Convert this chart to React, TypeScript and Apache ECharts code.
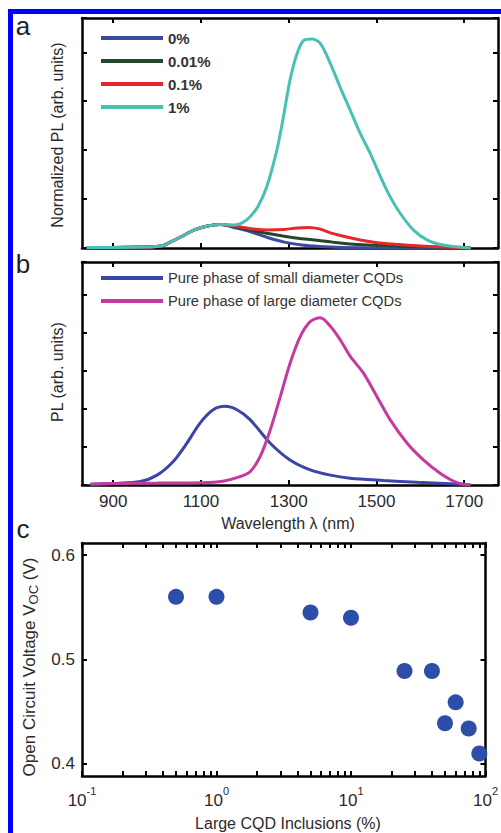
import React, { useEffect, useRef } from "react";
import * as echarts from "echarts";

// ---------- Data ----------
const wavelengthTicks = [900, 1100, 1300, 1500, 1700];

// Panel a: normalized PL for increasing large-dot inclusion
const lamA0 = [840, 900, 980, 1010, 1030, 1055, 1085, 1115, 1145, 1175, 1210, 1250, 1290, 1330, 1370, 1420, 1500, 1600, 1715];
const plA0 = [0.01, 0.01, 0.02, 0.04, 0.12, 0.23, 0.37, 0.45, 0.48, 0.42, 0.34, 0.22, 0.12, 0.06, 0.03, 0.01, 0.0, 0.0, 0.0];

const lamA001 = [840, 900, 980, 1010, 1030, 1055, 1085, 1115, 1145, 1175, 1210, 1250, 1290, 1330, 1365, 1400, 1440, 1480, 1520, 1570, 1620, 1715];
const plA001 = [0.01, 0.01, 0.02, 0.04, 0.12, 0.23, 0.37, 0.45, 0.48, 0.44, 0.37, 0.3, 0.24, 0.19, 0.16, 0.12, 0.08, 0.06, 0.05, 0.03, 0.02, 0.0];

const lamA01 = [840, 900, 980, 1010, 1030, 1055, 1085, 1115, 1145, 1175, 1210, 1250, 1290, 1320, 1345, 1370, 1395, 1420, 1450, 1480, 1520, 1550, 1600, 1650, 1715];
const plA01 = [0.01, 0.01, 0.02, 0.04, 0.12, 0.23, 0.37, 0.45, 0.48, 0.45, 0.4, 0.37, 0.38, 0.41, 0.42, 0.39, 0.31, 0.25, 0.19, 0.14, 0.09, 0.07, 0.04, 0.02, 0.0];

const lamA1 = [840, 900, 980, 1010, 1030, 1055, 1085, 1115, 1145, 1175, 1195, 1212, 1230, 1250, 1273, 1288, 1303, 1319, 1334, 1354, 1372, 1395, 1417, 1440, 1463, 1486, 1509, 1531, 1554, 1584, 1616, 1652, 1698, 1715];
const plA1 = [0.01, 0.01, 0.02, 0.04, 0.12, 0.23, 0.37, 0.45, 0.48, 0.47, 0.52, 0.64, 0.85, 1.25, 2.0, 2.68, 3.43, 3.97, 4.24, 4.27, 4.18, 3.77, 3.29, 2.82, 2.34, 1.93, 1.46, 1.05, 0.71, 0.37, 0.16, 0.06, 0.01, 0.0];

// Panel b: pure phases
const lamSmall = [848, 900, 962, 1000, 1037, 1068, 1098, 1128, 1155, 1182, 1212, 1258, 1303, 1349, 1395, 1440, 1516, 1593, 1668, 1714];
const plSmall = [0.02, 0.04, 0.09, 0.26, 0.62, 1.1, 1.63, 1.98, 2.07, 1.98, 1.72, 1.1, 0.66, 0.4, 0.26, 0.18, 0.12, 0.07, 0.03, 0.0];

const lamLarge = [848, 900, 1000, 1100, 1150, 1189, 1212, 1235, 1258, 1281, 1303, 1326, 1349, 1372, 1395, 1417, 1440, 1470, 1501, 1531, 1570, 1607, 1645, 1684, 1714];
const plLarge = [0.02, 0.04, 0.05, 0.06, 0.1, 0.22, 0.35, 0.75, 1.45, 2.33, 3.2, 3.9, 4.3, 4.4, 4.18, 3.83, 3.39, 2.95, 2.33, 1.72, 1.1, 0.66, 0.31, 0.06, 0.0];

// Panel c: Voc vs large CQD inclusions
const inclusions = [0.5, 1, 5, 10, 25, 40, 60, 50, 75, 90];
const vocValues = [0.56, 0.56, 0.545, 0.54, 0.489, 0.489, 0.459, 0.439, 0.434, 0.41];
const vocTicks = [0.4, 0.5, 0.6];
const logMajorTicks = [0.1, 1, 10, 100];
const logAllTicks = [0.1, 0.2, 0.3, 0.4, 0.5, 0.6, 0.7, 0.8, 0.9, 1, 2, 3, 4, 5, 6, 7, 8, 9, 10, 20, 30, 40, 50, 60, 70, 80, 90, 100];

const FONT = "'Liberation Sans', Arial, Helvetica, sans-serif";
const TXT = "#2a2a2a";

const pairs = (xs: number[], ys: number[]) => xs.map((x, i) => [x, ys[i]]);

const axisLine = { show: true, onZero: false, lineStyle: { color: "#000", width: 2.5 } };
const tickStyle = (vals?: number[]) => {
  const t: any = { show: true, inside: true, length: 5, lineStyle: { color: "#000", width: 2 } };
  if (vals) t.customValues = vals;
  return t;
};

const wlAxis = (grid: number, position: string, labels: boolean) => ({
  type: "value",
  gridIndex: grid,
  position,
  min: 829,
  max: 1777,
  axisLine,
  axisTick: tickStyle(wavelengthTicks),
  axisLabel: labels
    ? {
        show: true,
        customValues: wavelengthTicks,
        formatter: (v: number) => String(v),
        fontSize: 17,
        color: TXT,
        margin: 8,
        fontFamily: FONT,
      }
    : { show: false },
  splitLine: { show: false },
});

const plAxis = (grid: number, position: string, max: number) => ({
  type: "value",
  gridIndex: grid,
  position,
  min: 0,
  max,
  interval: 1,
  axisLine,
  axisTick: tickStyle(),
  axisLabel: { show: false },
  splitLine: { show: false },
});

const logAxis = (position: string, labels: boolean) => ({
  type: "log",
  logBase: 10,
  gridIndex: 2,
  position,
  min: 0.1,
  max: 100,
  axisLine,
  axisTick: tickStyle(logAllTicks),
  axisLabel: labels
    ? {
        show: true,
        customValues: logMajorTicks,
        margin: 9,
        formatter: (v: number) => `{b|10}{s|${Math.round(Math.log10(v))}}`,
        rich: {
          b: { fontSize: 17, lineHeight: 30, verticalAlign: "middle", color: TXT, fontFamily: FONT },
          s: { fontSize: 11, lineHeight: 8, verticalAlign: "top", color: TXT, fontFamily: FONT },
        },
      }
    : { show: false },
  splitLine: { show: false },
  minorTick: { show: false },
});

const vocAxis = (position: string, labels: boolean) => ({
  type: "value",
  gridIndex: 2,
  position,
  min: 0.3885,
  max: 0.6115,
  axisLine,
  axisTick: tickStyle(vocTicks),
  axisLabel: labels
    ? {
        show: true,
        customValues: vocTicks,
        formatter: (v: number) => v.toFixed(1),
        fontSize: 17,
        color: TXT,
        margin: 7,
        fontFamily: FONT,
      }
    : { show: false },
  splitLine: { show: false },
});

const lineSeries = (name: string, xi: number, xs: number[], ys: number[], color: string) => ({
  type: "line",
  name,
  xAxisIndex: xi,
  yAxisIndex: xi,
  data: pairs(xs, ys),
  showSymbol: false,
  symbol: "none",
  smooth: 0.3,
  color,
  lineStyle: { color, width: 3 },
  itemStyle: { color },
});

const legendBase = {
  orient: "vertical",
  left: 101,
  itemWidth: 62,
  itemHeight: 4,
  itemGap: 7,
  icon: "rect",
  padding: 0,
  selectedMode: false,
};

export default function App() {
  const ref = useRef<HTMLDivElement>(null);
  useEffect(() => {
    if (!ref.current) return;
    const chart = echarts.init(ref.current, undefined, { renderer: "svg" });
    const option: any = {
      animation: false,
      textStyle: { fontFamily: FONT },
      grid: [
        { left: 82, top: 18, width: 416, height: 230 },
        { left: 82, top: 262, width: 416, height: 223 },
        { left: 82, top: 543, width: 415, height: 233 },
      ],
      xAxis: [
        wlAxis(0, "bottom", false),
        wlAxis(0, "top", false),
        wlAxis(1, "bottom", true),
        wlAxis(1, "top", false),
        logAxis("bottom", true),
        logAxis("top", false),
      ],
      yAxis: [
        plAxis(0, "left", 4.7),
        plAxis(0, "right", 4.7),
        plAxis(1, "left", 5.87),
        plAxis(1, "right", 5.87),
        vocAxis("left", true),
        vocAxis("right", false),
      ],
      legend: [
        {
          ...legendBase,
          top: 30,
          data: ["0%", "0.01%", "0.1%", "1%"],
          textStyle: { fontSize: 15, fontWeight: "bold", color: "#333", lineHeight: 16, fontFamily: FONT },
        },
        {
          ...legendBase,
          top: 270,
          data: ["Pure phase of small diameter CQDs", "Pure phase of large diameter CQDs"],
          textStyle: { fontSize: 14.7, color: "#333", lineHeight: 16, fontFamily: FONT },
        },
      ],
      series: [
        lineSeries("0%", 0, lamA0, plA0, "#3d4a9e"),
        lineSeries("0.01%", 0, lamA001, plA001, "#22482b"),
        lineSeries("0.1%", 0, lamA01, plA01, "#e8262e"),
        lineSeries("1%", 0, lamA1, plA1, "#48c0b4"),
        lineSeries("Pure phase of small diameter CQDs", 2, lamSmall, plSmall, "#3a45a5"),
        lineSeries("Pure phase of large diameter CQDs", 2, lamLarge, plLarge, "#c43a9e"),
        {
          type: "scatter",
          name: "Voc",
          xAxisIndex: 4,
          yAxisIndex: 4,
          data: pairs(inclusions, vocValues),
          symbol: "circle",
          symbolSize: 16,
          itemStyle: { color: "#2d4ea8", opacity: 1 },
        },
      ],
      graphic: [
        { type: "rect", shape: { x: 8, y: 9, width: 493, height: 5 }, style: { fill: "#0000ff" } },
        { type: "rect", shape: { x: 8, y: 9, width: 5, height: 824 }, style: { fill: "#0000ff" } },
        { type: "text", x: 23, y: 26, style: { text: "a", fontSize: 26, fontFamily: FONT, fill: "#222", align: "center", verticalAlign: "middle" } },
        { type: "text", x: 23, y: 264, style: { text: "b", fontSize: 26, fontFamily: FONT, fill: "#222", align: "center", verticalAlign: "middle" } },
        { type: "text", x: 23, y: 529, style: { text: "c", fontSize: 26, fontFamily: FONT, fill: "#222", align: "center", verticalAlign: "middle" } },
        {
          type: "text", x: 57, y: 135, rotation: Math.PI / 2,
          style: { text: "Normalized PL (arb. units)", fontSize: 16, fontFamily: FONT, fill: TXT, align: "center", verticalAlign: "middle" },
        },
        {
          type: "text", x: 57, y: 372, rotation: Math.PI / 2,
          style: { text: "PL (arb. units)", fontSize: 16, fontFamily: FONT, fill: TXT, align: "center", verticalAlign: "middle" },
        },
        {
          type: "text", x: 288, y: 523,
          style: { text: "Wavelength λ (nm)", fontSize: 16, fontFamily: FONT, fill: TXT, align: "center", verticalAlign: "middle" },
        },
        {
          type: "text", x: 29, y: 667, rotation: Math.PI / 2,
          style: {
            text: "Open Circuit Voltage V{sub|OC} (V)",
            fontSize: 17, lineHeight: 22, fontFamily: FONT, fill: TXT, align: "center", verticalAlign: "middle",
            rich: { sub: { fontSize: 13, lineHeight: 10, verticalAlign: "bottom", fill: TXT, fontFamily: FONT } },
          },
        },
        {
          type: "text", x: 288, y: 823,
          style: { text: "Large CQD Inclusions (%)", fontSize: 16, fontFamily: FONT, fill: TXT, align: "center", verticalAlign: "middle" },
        },
      ],
    };
    chart.setOption(option);
    return () => chart.dispose();
  }, []);
  return (
    <div
      ref={ref}
      style={{ position: "absolute", left: 0, top: 0, width: 501, height: 833, background: "#fff" }}
    />
  );
}
